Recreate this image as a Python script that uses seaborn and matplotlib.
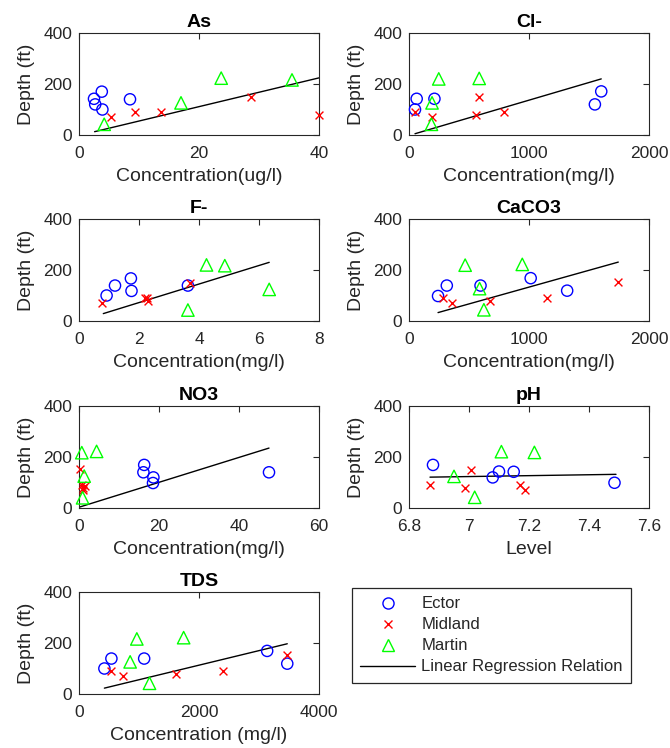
import matplotlib
matplotlib.use("Agg")
import matplotlib.pyplot as plt
from matplotlib.lines import Line2D
from matplotlib.ticker import FuncFormatter
import seaborn as sns

# ---------------- data ----------------
counties = ["Ector", "Midland", "Martin"]

# As (ug/l)
as_ector_x = [2.5, 2.7, 3.8, 3.9, 8.5]
as_ector_y = [142, 120, 170, 100, 140]
as_midland_x = [5.3, 9.4, 13.6, 28.6, 40.0]
as_midland_y = [70, 91, 90, 150, 79]
as_martin_x = [4.2, 17.0, 23.7, 35.5]
as_martin_y = [42, 126, 223, 216]
as_reg_x = [2.6, 40.0]
as_reg_y = [13, 224]

# Cl- (mg/l)
cl_ector_x = [64, 50, 212, 1549, 1602]
cl_ector_y = [142, 100, 142, 120, 171]
cl_midland_x = [50, 192, 557, 585, 794]
cl_midland_y = [90, 69, 77, 150, 90]
cl_martin_x = [248, 585, 192, 187]
cl_martin_y = [220, 222, 126, 42]
cl_reg_x = [50, 1602]
cl_reg_y = [5, 220]

# F- (mg/l)
f_ector_x = [0.92, 1.2, 1.73, 1.75, 3.63]
f_ector_y = [100, 139, 167, 118, 139]
f_midland_x = [0.78, 2.2, 2.26, 2.3, 3.71]
f_midland_y = [70, 90, 89, 80, 150]
f_martin_x = [4.25, 4.86, 6.34, 3.63]
f_martin_y = [220, 217, 124, 43]
f_reg_x = [0.81, 6.34]
f_reg_y = [29, 230]

# CaCO3 (mg/l)
ca_ector_x = [242, 315, 596, 1014, 1318]
ca_ector_y = [98, 139, 139, 168, 119]
ca_midland_x = [287, 362, 674, 1153, 1744]
ca_midland_y = [89, 70, 79, 89, 151]
ca_martin_x = [468, 944, 588, 624]
ca_martin_y = [219, 222, 127, 44]
ca_reg_x = [242, 1744]
ca_reg_y = [33, 231]

# NO3 (mg/l)
no_ector_x = [16.3, 16.1, 18.6, 18.5, 47.5]
no_ector_y = [169, 140, 120, 98, 140]
no_midland_x = [0.3, 0.7, 1.5, 1.1, 1.0]
no_midland_y = [152, 90, 88, 80, 72]
no_martin_x = [0.7, 4.4, 1.3, 0.9]
no_martin_y = [217, 222, 125, 40]
no_reg_x = [0.0, 47.5]
no_reg_y = [3, 235]

# pH (level)
ph_ector_x = [6.88, 7.079, 7.10, 7.149, 7.485]
ph_ector_y = [169, 120, 143, 142, 99]
ph_midland_x = [6.87, 6.988, 7.008, 7.17, 7.188]
ph_midland_y = [91, 77, 150, 90, 70]
ph_martin_x = [6.95, 7.108, 7.218, 7.019]
ph_martin_y = [124, 221, 218, 42]
ph_reg_x = [6.87, 7.49]
ph_reg_y = [121, 132]

# TDS (mg/l)
tds_ector_x = [423, 540, 1086, 3136, 3471]
tds_ector_y = [100, 139, 139, 169, 119]
tds_midland_x = [529, 741, 1621, 2401, 3471]
tds_midland_y = [91, 71, 78, 91, 152]
tds_martin_x = [964, 1744, 852, 1175]
tds_martin_y = [216, 221, 126, 42]
tds_reg_x = [423, 3471]
tds_reg_y = [23, 197]

titles = ["As", "Cl-", "F-", "CaCO3", "NO3", "pH", "TDS"]
xlabels = ["Concentration(ug/l)", "Concentration(mg/l)", "Concentration(mg/l)",
           "Concentration(mg/l)", "Concentration(mg/l)", "Level",
           "Concentration (mg/l)"]
xlims = [(0, 40), (0, 2000), (0, 8), (0, 2000), (0, 60), (6.8, 7.6), (0, 4000)]
xticks = [[0, 20, 40], [0, 1000, 2000], [0, 2, 4, 6, 8], [0, 1000, 2000],
          [0, 20, 40, 60], [6.8, 7.0, 7.2, 7.4, 7.6], [0, 2000, 4000]]
yticks = [0, 200, 400]
legend_labels = ["Ector", "Midland", "Martin", "Linear Regression Relation"]

panels = [
    (as_ector_x, as_ector_y, as_midland_x, as_midland_y, as_martin_x, as_martin_y, as_reg_x, as_reg_y),
    (cl_ector_x, cl_ector_y, cl_midland_x, cl_midland_y, cl_martin_x, cl_martin_y, cl_reg_x, cl_reg_y),
    (f_ector_x, f_ector_y, f_midland_x, f_midland_y, f_martin_x, f_martin_y, f_reg_x, f_reg_y),
    (ca_ector_x, ca_ector_y, ca_midland_x, ca_midland_y, ca_martin_x, ca_martin_y, ca_reg_x, ca_reg_y),
    (no_ector_x, no_ector_y, no_midland_x, no_midland_y, no_martin_x, no_martin_y, no_reg_x, no_reg_y),
    (ph_ector_x, ph_ector_y, ph_midland_x, ph_midland_y, ph_martin_x, ph_martin_y, ph_reg_x, ph_reg_y),
    (tds_ector_x, tds_ector_y, tds_midland_x, tds_midland_y, tds_martin_x, tds_martin_y, tds_reg_x, tds_reg_y),
]

# ---------------- style ----------------
sns.set_style("white")
plt.rcParams["font.family"] = ["Liberation Sans", "DejaVu Sans"]
DARK = (0.15, 0.15, 0.15)
BLUE, RED, GREEN = (0, 0, 1), (1, 0, 0), (0, 1, 0)

W, H = 670, 748
fig = plt.figure(figsize=(W / 100, H / 100), dpi=100)

col_left = [79, 409]
col_w = 240
row_top = [33, 219, 406, 592]
row_h = 102

for i, (ex, ey, mx, my, tx, ty, rx, ry) in enumerate(panels):
    r, c = divmod(i, 2)
    l = col_left[c]
    t = row_top[r]
    ax = fig.add_axes([l / W, 1 - (t + row_h) / H, col_w / W, row_h / H])

    sns.lineplot(x=rx, y=ry, ax=ax, color="black", linewidth=1.0)
    sns.scatterplot(x=ex, y=ey, ax=ax, marker="o", s=65, color=BLUE,
                    facecolor="none", edgecolor=BLUE, linewidth=1.0, zorder=3,
                    clip_on=False)
    sns.scatterplot(x=mx, y=my, ax=ax, marker="x", s=32, color=RED,
                    linewidth=1.0, zorder=3, clip_on=False)
    sns.scatterplot(x=tx, y=ty, ax=ax, marker="^", s=80, color=GREEN,
                    facecolor="none", edgecolor=GREEN, linewidth=1.0, zorder=3,
                    clip_on=False)

    ax.set_xlim(*xlims[i])
    ax.set_ylim(0, 400)
    ax.set_xticks(xticks[i])
    ax.set_yticks(yticks)
    ax.xaxis.set_major_formatter(FuncFormatter(lambda v, p: f"{v:g}"))
    ax.set_title(titles[i], fontsize=14, fontweight="bold", color="black", pad=4)
    ax.set_xlabel(xlabels[i], fontsize=14, color=DARK, labelpad=5)
    ax.set_ylabel("Depth (ft)", fontsize=14, color=DARK, labelpad=6)
    ax.tick_params(direction="in", top=True, right=True, length=4, width=0.8,
                   labelsize=12.5, colors=DARK)
    ax.tick_params(axis="x", pad=8)
    ax.tick_params(axis="y", pad=5)
    for sp in ax.spines.values():
        sp.set_color(DARK)
        sp.set_linewidth(0.8)

handles = [
    Line2D([], [], linestyle="none", marker="o", markersize=8,
           markerfacecolor="none", markeredgecolor=BLUE, markeredgewidth=1.0),
    Line2D([], [], linestyle="none", marker="x", markersize=5.7,
           color=RED, markeredgewidth=1.0),
    Line2D([], [], linestyle="none", marker="^", markersize=8.5,
           markerfacecolor="none", markeredgecolor=GREEN, markeredgewidth=1.0),
    Line2D([], [], color="black", linewidth=1.0),
]
leg = fig.legend(handles, legend_labels, loc="upper left",
                 bbox_to_anchor=(352 / W, 1 - 588 / H),
                 bbox_transform=fig.transFigure,
                 fontsize=12, frameon=True, fancybox=False, framealpha=1,
                 edgecolor=DARK, handlelength=3.3, handletextpad=0.35,
                 labelspacing=0.36, borderpad=0.5, borderaxespad=0)
leg.get_frame().set_linewidth(0.9)

fig.savefig("out.png", dpi=100)
